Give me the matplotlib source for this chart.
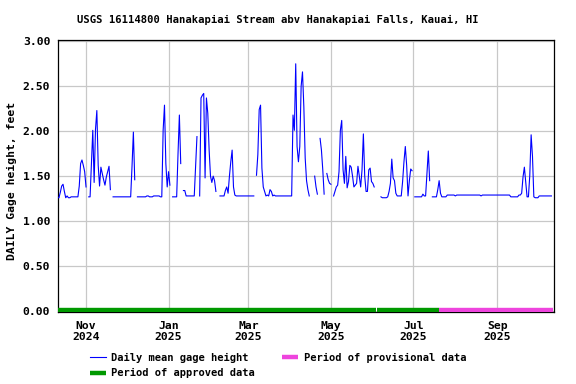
import numpy as np
import pandas as pd
import matplotlib
matplotlib.use("Agg")
import matplotlib.pyplot as plt
from matplotlib.lines import Line2D

nan = np.nan

# daily mean gage height, feet, starting 2024-10-11
start = "2024-10-11"
gage = [
    1.26, 1.26, 1.32, 1.39, 1.41, 1.33, 1.26, 1.28, 1.26, 1.26,
    1.27, 1.27, 1.27, 1.27, 1.27, 1.27, 1.39, 1.64, 1.68, 1.62,
    1.55, 1.38, nan, 1.27, 1.27, 1.64, 2.01, 1.43, 2.02, 2.23,
    1.62, 1.39, 1.60, 1.53, 1.46, 1.40, 1.49, 1.55, 1.61, 1.35,
    nan, 1.27, 1.27, 1.27, 1.27, 1.27, 1.27, 1.27, 1.27, 1.27,
    1.27, 1.27, 1.27, 1.27, 1.27, 1.61, 1.99, 1.46, nan, 1.27,
    1.27, 1.27, 1.27, 1.27, 1.27, 1.27, 1.28, 1.28, 1.27, 1.27,
    1.27, 1.28, 1.28, 1.28, 1.28, 1.28, 1.27, 1.27, 2.01, 2.29,
    1.64, 1.38, 1.55, 1.40, nan, 1.27, 1.27, 1.27, 1.27, 1.75,
    2.18, 1.64, nan, 1.34, 1.34, 1.28, 1.28, 1.28, 1.28, 1.28,
    1.28, 1.28, 1.61, 1.94, nan, 1.28, 2.37, 2.40, 2.42, 1.48,
    2.37, 2.20, 1.79, 1.50, 1.43, 1.50, 1.45, 1.33, nan, nan,
    1.28, 1.28, 1.28, 1.28, 1.34, 1.38, 1.31, 1.50, 1.66, 1.79,
    1.38, 1.29, 1.28, 1.28, 1.28, 1.28, 1.28, 1.28, 1.28, 1.28,
    1.28, 1.28, 1.28, 1.28, 1.28, 1.28, nan, 1.51, 1.74, 2.24,
    2.29, 1.59, 1.38, 1.33, 1.28, 1.29, 1.28, 1.35, 1.33, 1.28,
    1.29, 1.28, 1.28, 1.28, 1.28, 1.28, 1.28, 1.28, 1.28, 1.28,
    1.28, 1.28, 1.28, 1.28, 2.18, 2.01, 2.75, 1.83, 1.66, 1.83,
    2.50, 2.66, 2.27, 1.70, 1.45, 1.35, 1.28, nan, 1.28, nan,
    1.50, 1.38, 1.30, nan, 1.92, 1.79, 1.57, 1.30, nan, 1.53,
    1.46, 1.42, 1.41, nan, 1.28, 1.33, 1.38, 1.40, 1.55, 2.01,
    2.12, 1.57, 1.42, 1.72, 1.37, 1.44, 1.62, 1.60, 1.50, 1.38,
    1.40, 1.42, 1.61, 1.50, 1.38, 1.57, 1.97, 1.50, 1.33, 1.33,
    1.57, 1.59, 1.44, 1.42, 1.38, nan, nan, 1.36, nan, 1.27,
    1.26, 1.26, 1.26, 1.26, 1.27, 1.33, 1.42, 1.69, 1.48, 1.45,
    1.31, 1.28, 1.28, 1.28, 1.28, 1.44, 1.66, 1.83, 1.62, 1.28,
    1.45, 1.58, 1.56, nan, 1.27, 1.27, 1.27, 1.27, 1.27, 1.27,
    1.30, 1.28, 1.28, 1.53, 1.78, 1.45, nan, 1.27, 1.27, 1.27,
    1.27, 1.35, 1.45, 1.31, 1.27, 1.27, 1.27, 1.27, 1.29, 1.29,
    1.29, 1.29, 1.29, 1.29, 1.28, 1.29, 1.29, 1.29, 1.29, 1.29,
    1.29, 1.29, 1.29, 1.29, 1.29, 1.29, 1.29, 1.29, 1.29, 1.29,
    1.29, 1.29, 1.29, 1.28, 1.29, 1.29, 1.29, 1.29, 1.29, 1.29,
    1.29, 1.29, 1.29, 1.29, 1.29, 1.29, 1.29, 1.29, 1.29, 1.29,
    1.29, 1.29, 1.29, 1.29, 1.29, 1.27, 1.27, 1.27, 1.27, 1.27,
    1.27, 1.29, 1.29, 1.31, 1.49, 1.60, 1.44, 1.27, 1.27, 1.51,
    1.96, 1.72, 1.27, 1.26, 1.26, 1.26, 1.28, 1.28, 1.28, 1.28,
    1.28, 1.28, 1.28, 1.28, 1.28, 1.28,
]
dates = pd.date_range(start, periods=len(gage), freq="D")

# approval periods
approved = [("2024-10-11", "2025-06-03"), ("2025-06-04", "2025-07-20")]
provisional = [("2025-07-20", "2025-10-12")]

month_ticks = ["2024-11-01", "2025-01-01", "2025-03-01", "2025-05-01", "2025-07-01", "2025-09-01"]
month_labels = ["Nov\n2024", "Jan\n2025", "Mar\n2025", "May\n2025", "Jul\n2025", "Sep\n2025"]
y_ticks = [0.0, 0.5, 1.0, 1.5, 2.0, 2.5, 3.0]

title = "USGS 16114800 Hanakapiai Stream abv Hanakapiai Falls, Kauai, HI"

BLUE, GREEN, PINK = "#0000ff", "#009900", "#ee44dd"

font = "DejaVu Sans Mono"
plt.rcParams["font.family"] = font
plt.rcParams["font.weight"] = "bold"

fig = plt.figure(figsize=(5.76, 3.84), dpi=100)
ax = fig.add_axes([0.1007, 0.1875, 0.8611, 0.7096])

ax.plot(dates, gage, color=BLUE, lw=0.8, zorder=3)

# status bars along y=0 (lower half clipped by the axes)
for a, b in approved:
    ax.plot([pd.Timestamp(a), pd.Timestamp(b)], [0, 0], color=GREEN, lw=4.6,
            solid_capstyle="butt", zorder=4)
for a, b in provisional:
    ax.plot([pd.Timestamp(a), pd.Timestamp(b)], [0, 0], color=PINK, lw=4.6,
            solid_capstyle="butt", zorder=4)

x0 = pd.Timestamp("2024-10-11") + pd.Timedelta(hours=7)
x1 = pd.Timestamp("2024-10-11") + pd.Timedelta(days=366.9)
ax.set_xlim(x0, x1)
ax.set_ylim(-0.011, 3.02)

ax.set_xticks([pd.Timestamp(t) for t in month_ticks])
ax.set_xticklabels(month_labels, fontsize=8.2, fontweight="bold", linespacing=1.15)
ax.set_yticks(y_ticks)
ax.set_yticklabels(["%.2f" % v for v in y_ticks], fontsize=8.2, fontweight="bold")
ax.tick_params(axis="y", length=0, pad=5.5)
ax.tick_params(axis="x", length=0, pad=6.5)
ax.grid(True, color="#c8c8c8", lw=0.9)
ax.set_axisbelow(True)
for s in ax.spines.values():
    s.set_linewidth(0.9)

fig.text(0.482, 0.948, title, ha="center", va="center", fontsize=7.6, fontweight="bold")
fig.text(0.02, 1 - 181 / 384, "DAILY Gage height, feet", rotation=90,
         ha="center", va="center", fontsize=8.2, fontweight="bold")

handles = [Line2D([], [], color=BLUE, lw=0.8),
           Line2D([], [], color=GREEN, lw=3.2, solid_capstyle="butt"),
           Line2D([], [], color=PINK, lw=3.2, solid_capstyle="butt")]
labels = ["Daily mean gage height", "Period of approved data", "Period of provisional data"]
fig.legend(handles, labels, ncol=2,
           loc="upper left", bbox_to_anchor=(90 / 576, 1 - 353 / 384),
           frameon=False, handlelength=1.55, handletextpad=0.5,
           columnspacing=2.6, labelspacing=0.5, borderpad=0, borderaxespad=0,
           prop={"family": font, "weight": "bold", "size": 7.5})

fig.savefig("out.png", dpi=100)
